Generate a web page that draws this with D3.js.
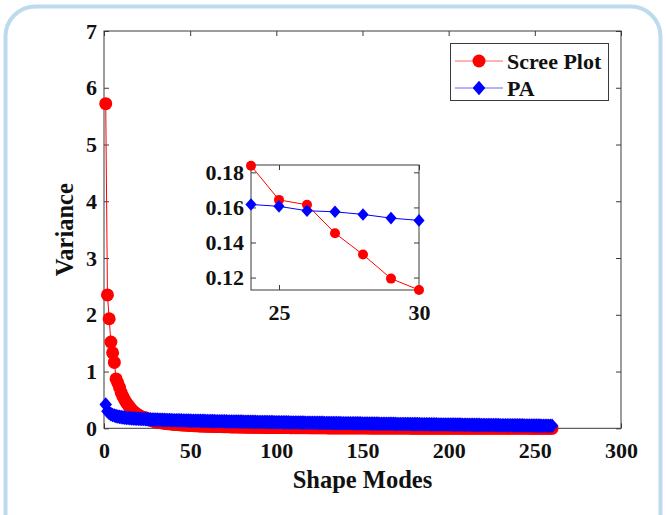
<!DOCTYPE html>
<html><head><meta charset="utf-8">
<script src="https://cdn.jsdelivr.net/npm/d3@7"></script>
<style>body{margin:0;background:#fff}svg{display:block}text{font-family:"Liberation Serif","Times New Roman",serif;font-weight:bold;fill:#111}</style>
</head><body><svg id="c" width="666" height="515"></svg>
<script>
const screeValues = [
5.72,2.35,1.93,1.52,1.33,1.16,0.87,0.80,0.72,0.63,0.56,0.50,0.45,0.41,0.37,0.33,0.30,0.275,0.25,0.23,0.215,0.20,0.19,0.1838,0.1643,0.1615,0.1453,0.1331,0.1194,0.1129,
0.108,0.103,0.098,0.094,0.090,0.086,0.082,0.079,0.076,0.073,0.070,0.067,0.065,0.062,0.060,0.058,0.056,0.054,0.052,0.050,0.048,0.047,0.045,0.044,0.042,0.041,0.040,0.039,0.038,0.037,
0.036,0.035,0.034,0.033,0.032,0.031,0.030,0.030,0.029,0.028,0.027,0.027,0.026,0.025,0.025,0.024,0.024,0.023,0.022,0.022,0.021,0.021,0.020,0.020,0.019,0.019,0.018,0.018,0.018,0.017,
0.017,0.016,0.016,0.016,0.015,0.015,0.015,0.014,0.014,0.014,0.013,0.013,0.013,0.012,0.012,0.012,0.012,0.011,0.011,0.011,0.011,0.010,0.010,0.010,0.010,0.0098,0.0096,0.0094,0.0092,0.0090,
0.0088,0.0086,0.0085,0.0083,0.0081,0.0080,0.0078,0.0077,0.0075,0.0074,0.0072,0.0071,0.0070,0.0068,0.0067,0.0066,0.0065,0.0063,0.0062,0.0061,0.0060,0.0059,0.0058,0.0057,0.0056,0.0055,0.0054,0.0053,0.0052,0.0051,
0.0050,0.0049,0.0048,0.0047,0.0047,0.0046,0.0045,0.0044,0.0043,0.0043,0.0042,0.0041,0.0040,0.0040,0.0039,0.0038,0.0037,0.0037,0.0036,0.0035,0.0035,0.0034,0.0033,0.0033,0.0032,0.0031,0.0031,0.0030,0.0030,0.0029,
0.0028,0.0028,0.0027,0.0027,0.0026,0.0026,0.0025,0.0025,0.0024,0.0024,0.0023,0.0023,0.0022,0.0022,0.0021,0.0021,0.0020,0.0020,0.0019,0.0019,0.0018,0.0018,0.0018,0.0017,0.0017,0.0016,0.0016,0.0016,0.0015,0.0015,
0.0014,0.0014,0.0014,0.0013,0.0013,0.0013,0.0012,0.0012,0.0012,0.0011,0.0011,0.0011,0.0010,0.0010,0.0010,0.0009,0.0009,0.0009,0.0008,0.0008,0.0008,0.0008,0.0007,0.0007,0.0007,0.0006,0.0006,0.0006,0.0006,0.0005,
0.0005,0.0005,0.0005,0.0004,0.0004,0.0004,0.0004,0.0003,0.0003,0.0003,0.0003,0.0002,0.0002,0.0002,0.0002,0.0001,0.0001,0.0001,0.0001,0.0000
];
const paValues = [
0.42,0.30,0.27,0.25,0.235,0.225,0.215,0.208,0.202,0.197,0.192,0.188,0.184,0.181,0.178,0.175,0.173,0.171,0.169,0.167,0.166,0.164,0.163,0.1617,0.1606,0.1581,0.1575,0.1560,0.1539,0.1526,
0.152,0.151,0.150,0.149,0.148,0.147,0.146,0.145,0.144,0.143,0.142,0.141,0.141,0.140,0.139,0.138,0.137,0.137,0.136,0.135,0.134,0.134,0.133,0.132,0.132,0.131,0.130,0.130,0.129,0.128,
0.128,0.127,0.127,0.126,0.125,0.125,0.124,0.124,0.123,0.122,0.122,0.121,0.121,0.120,0.120,0.119,0.119,0.118,0.117,0.117,0.116,0.116,0.115,0.115,0.114,0.114,0.113,0.113,0.112,0.112,
0.111,0.111,0.110,0.110,0.109,0.109,0.108,0.108,0.107,0.107,0.106,0.106,0.106,0.105,0.105,0.104,0.104,0.103,0.103,0.102,0.102,0.101,0.101,0.100,0.100,0.100,0.099,0.099,0.098,0.098,
0.097,0.097,0.097,0.096,0.096,0.095,0.095,0.094,0.094,0.094,0.093,0.093,0.092,0.092,0.091,0.091,0.091,0.090,0.090,0.089,0.089,0.089,0.088,0.088,0.087,0.087,0.087,0.086,0.086,0.085,
0.085,0.085,0.084,0.084,0.083,0.083,0.083,0.082,0.082,0.081,0.081,0.081,0.080,0.080,0.079,0.079,0.079,0.078,0.078,0.077,0.077,0.077,0.076,0.076,0.076,0.075,0.075,0.074,0.074,0.074,
0.073,0.073,0.073,0.072,0.072,0.071,0.071,0.071,0.070,0.070,0.070,0.069,0.069,0.068,0.068,0.068,0.067,0.067,0.067,0.066,0.066,0.065,0.065,0.065,0.064,0.064,0.064,0.063,0.063,0.063,
0.062,0.062,0.061,0.061,0.061,0.060,0.060,0.060,0.059,0.059,0.059,0.058,0.058,0.057,0.057,0.057,0.056,0.056,0.056,0.055,0.055,0.055,0.054,0.054,0.053,0.053,0.053,0.052,0.052,0.052,
0.051,0.051,0.051,0.050,0.050,0.049,0.049,0.049,0.048,0.048,0.048,0.047,0.047,0.046,0.046,0.046,0.045,0.045,0.045,0.044
];
const xTicks = [0,50,100,150,200,250,300];
const yTicks = [0,1,2,3,4,5,6,7];
const insetRange = [24,30];
const insetXTicks = [25,30];
const insetYTicks = [0.12,0.14,0.16,0.18];
const seriesNames = ["Scree Plot","PA"];

const svg = d3.select("#c");
svg.append("rect").attr("x",5.5).attr("y",6.5).attr("width",655).attr("height",620).attr("rx",30)
  .attr("fill","#fff").attr("stroke","#bcdcee").attr("stroke-width",4);

const modes = screeValues.map((d,i)=>i+1);
const scree = modes.map((m,i)=>({x:m,y:screeValues[i]}));
const pa = modes.map((m,i)=>({x:m,y:paValues[i]}));

const L=104,R=621,T=31,B=428.3;
const x = d3.scaleLinear().domain([0,300]).range([L,R]);
const y = d3.scaleLinear().domain([0,7]).range([B,T]);
const axisColor="#3a3a3a";
const FS="22px";

function styleText(a){
  a.selectAll("text").attr("font-size",FS).style("font-family",'"Liberation Serif","Times New Roman",serif').style("font-weight","bold").attr("fill","#111");
}
function drawAxes(g, xs, ys, xt, yt, fmtX, fmtY){
  const x0=xs.range()[0],x1=xs.range()[1],y0=ys.range()[0],y1=ys.range()[1];
  g.append("g").attr("transform",`translate(0,${y0})`).call(d3.axisBottom(xs).tickValues(xt).tickSizeInner(-5).tickSizeOuter(0).tickPadding(14).tickFormat(fmtX))
   .call(a=>{a.select(".domain").remove();a.selectAll("line").attr("stroke",axisColor);styleText(a);});
  g.append("g").attr("transform",`translate(0,${y1})`).call(d3.axisTop(xs).tickValues(xt).tickSizeInner(-5).tickSizeOuter(0).tickFormat(""))
   .call(a=>{a.select(".domain").remove();a.selectAll("line").attr("stroke",axisColor);});
  g.append("g").attr("transform",`translate(${x0},0)`).call(d3.axisLeft(ys).tickValues(yt).tickSizeInner(-5).tickSizeOuter(0).tickPadding(7).tickFormat(fmtY))
   .call(a=>{a.select(".domain").remove();a.selectAll("line").attr("stroke",axisColor);styleText(a);});
  g.append("g").attr("transform",`translate(${x1},0)`).call(d3.axisRight(ys).tickValues(yt).tickSizeInner(-5).tickSizeOuter(0).tickFormat(""))
   .call(a=>{a.select(".domain").remove();a.selectAll("line").attr("stroke",axisColor);});
  g.append("rect").attr("x",x0).attr("y",y1).attr("width",x1-x0).attr("height",y0-y1).attr("fill","none").attr("stroke",axisColor).attr("stroke-width",1);
}

const main = svg.append("g");
drawAxes(main,x,y,xTicks,yTicks,d3.format("d"),d3.format("d"));

const diamond = (s,cx,cy,w,h)=>s.append("path").attr("d",`M${cx},${cy-h}L${cx+w},${cy}L${cx},${cy+h}L${cx-w},${cy}Z`);

function drawSeries(g,xs,ys,data,color,kind,r,w,h){
  const line=d3.line().x(d=>xs(d.x)).y(d=>ys(d.y));
  g.append("path").datum(data).attr("d",line).attr("fill","none").attr("stroke",color).attr("stroke-width",1);
  if(kind==="circle"){
    g.selectAll(null).data(data).enter().append("circle").attr("cx",d=>xs(d.x)).attr("cy",d=>ys(d.y)).attr("r",r).attr("fill",color);
  } else {
    g.selectAll(null).data(data).enter().append("path")
     .attr("d",d=>{const cx=xs(d.x),cy=ys(d.y);return `M${cx},${cy-h}L${cx+w},${cy}L${cx},${cy+h}L${cx-w},${cy}Z`;}).attr("fill",color);
  }
}
drawSeries(main,x,y,scree,"#ff0000","circle",6.5);
drawSeries(main,x,y,pa,"#0000ff","diamond",0,6.3,7.3);

main.append("text").attr("x",(L+R)/2).attr("y",488).attr("text-anchor","middle").attr("font-size","24.5px").text("Shape Modes");
main.append("text").attr("transform",`translate(73,${(T+B)/2}) rotate(-90)`).attr("text-anchor","middle").attr("font-size","24.5px").text("Variance");

// legend
const lg = svg.append("g");
lg.append("rect").attr("x",450.5).attr("y",43.5).attr("width",158).attr("height",57).attr("fill","#fff").attr("stroke",axisColor);
const legendRows=[{name:seriesNames[0],color:"#ff0000",kind:"circle",cy:61},{name:seriesNames[1],color:"#0000ff",kind:"diamond",cy:88}];
legendRows.forEach(rw=>{
  lg.append("line").attr("x1",455).attr("x2",503).attr("y1",rw.cy).attr("y2",rw.cy).attr("stroke",rw.color).attr("stroke-opacity",0.6).attr("stroke-width",1);
  if(rw.kind==="circle") lg.append("circle").attr("cx",479).attr("cy",rw.cy).attr("r",6.5).attr("fill",rw.color);
  else diamond(lg,479,rw.cy,6.3,7.3).attr("fill",rw.color);
  lg.append("text").attr("x",507).attr("y",rw.cy+7.5).attr("font-size",FS).text(rw.name);
});

// inset
const xi = d3.scaleLinear().domain(insetRange).range([251,419]);
const yi = d3.scaleLinear().domain([0.1129,0.1842]).range([290,165]);
const ins = svg.append("g");
ins.append("rect").attr("x",251).attr("y",165).attr("width",168).attr("height",125).attr("fill","#fff");
drawAxes(ins,xi,yi,insetXTicks,insetYTicks,d3.format("d"),d3.format(".2f"));
const inS = scree.filter(d=>d.x>=insetRange[0]&&d.x<=insetRange[1]);
const inP = pa.filter(d=>d.x>=insetRange[0]&&d.x<=insetRange[1]);
drawSeries(ins,xi,yi,inS,"#ff0000","circle",5);
drawSeries(ins,xi,yi,inP,"#0000ff","diamond",0,5.6,6.3);
</script></body></html>
